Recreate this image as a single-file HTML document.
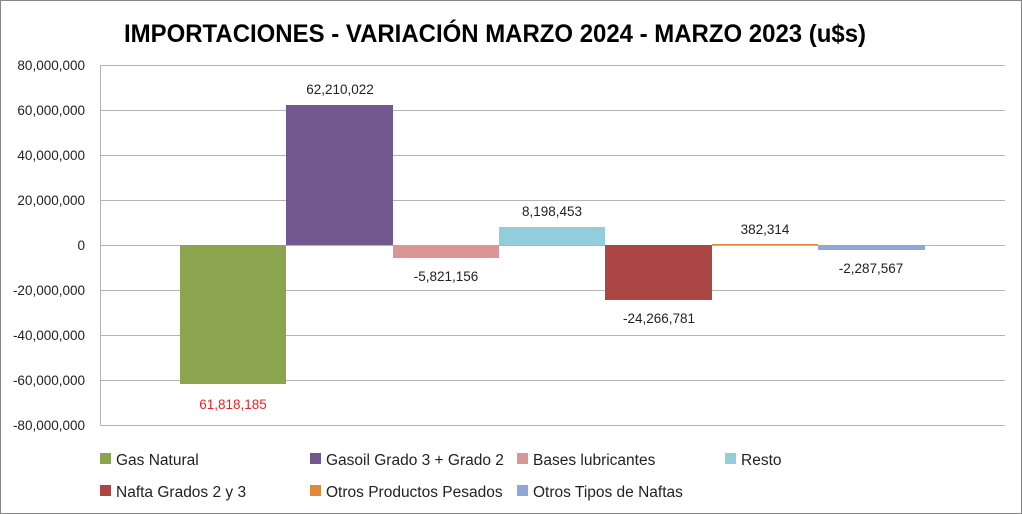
<!DOCTYPE html>
<html><head><meta charset="utf-8"><style>
html,body{margin:0;padding:0;background:#fff}
svg{display:block;font-family:"Liberation Sans",sans-serif}
</style></head><body>
<svg width="1022" height="514" viewBox="0 0 1022 514" xmlns="http://www.w3.org/2000/svg">
<rect x="0.5" y="0.5" width="1021" height="513" fill="#fff" stroke="#868686"/>
<text x="495" y="42" font-size="25" font-weight="bold" text-anchor="middle" textLength="742" lengthAdjust="spacingAndGlyphs" fill="#000">IMPORTACIONES - VARIACIÓN MARZO 2024 - MARZO 2023 (u$s)</text>
<g stroke="#b3b3b3" stroke-width="1">
<line x1="100" y1="65.5" x2="1005" y2="65.5"/>
<line x1="100" y1="110.5" x2="1005" y2="110.5"/>
<line x1="100" y1="155.5" x2="1005" y2="155.5"/>
<line x1="100" y1="200.5" x2="1005" y2="200.5"/>
<line x1="100" y1="245.5" x2="1005" y2="245.5"/>
<line x1="100" y1="290.5" x2="1005" y2="290.5"/>
<line x1="100" y1="335.5" x2="1005" y2="335.5"/>
<line x1="100" y1="380.5" x2="1005" y2="380.5"/>
<line x1="100" y1="425.5" x2="1005" y2="425.5"/>
<line x1="100.5" y1="65" x2="100.5" y2="425"/>
</g>
<g font-size="13.5" fill="#222" text-anchor="end">
<text x="85" y="70">80,000,000</text>
<text x="85" y="115">60,000,000</text>
<text x="85" y="160">40,000,000</text>
<text x="85" y="205">20,000,000</text>
<text x="85" y="250">0</text>
<text x="85" y="295">-20,000,000</text>
<text x="85" y="340">-40,000,000</text>
<text x="85" y="385">-60,000,000</text>
<text x="85" y="430">-80,000,000</text>
</g>
<rect x="180" y="245" width="106" height="139" fill="#8BA54E"/>
<rect x="286" y="105" width="107" height="140" fill="#71588F"/>
<rect x="393" y="245" width="106" height="13" fill="#D99694"/>
<rect x="499" y="227" width="106" height="18" fill="#93CDDD"/>
<rect x="605" y="245" width="107" height="55" fill="#AA4644"/>
<rect x="712" y="244" width="106" height="1" fill="#E0893B"/>
<rect x="818" y="245" width="107" height="5" fill="#8FA8D6"/>
<g font-size="13.5" fill="#222" text-anchor="middle">
<text x="233" y="409" fill="#e8252b">61,818,185</text>
<text x="340" y="94">62,210,022</text>
<text x="446" y="281">-5,821,156</text>
<text x="552" y="216">8,198,453</text>
<text x="659" y="323">-24,266,781</text>
<text x="765" y="234">382,314</text>
<text x="871" y="273">-2,287,567</text>
</g>
<g font-size="15.5" fill="#222">
<rect x="100" y="453" width="11" height="11" fill="#8BA54E"/><text x="116" y="465">Gas Natural</text>
<rect x="310" y="453" width="11" height="11" fill="#71588F"/><text x="326" y="465">Gasoil Grado 3 + Grado 2</text>
<rect x="517" y="453" width="11" height="11" fill="#D99694"/><text x="533" y="465">Bases lubricantes</text>
<rect x="725" y="453" width="11" height="11" fill="#93CDDD"/><text x="741" y="465">Resto</text>
<rect x="100" y="485" width="11" height="11" fill="#AA4644"/><text x="116" y="497">Nafta Grados 2 y 3</text>
<rect x="310" y="485" width="11" height="11" fill="#E0893B"/><text x="326" y="497">Otros Productos Pesados</text>
<rect x="517" y="485" width="11" height="11" fill="#8FA8D6"/><text x="533" y="497">Otros Tipos de Naftas</text>
</g>
</svg>
</body></html>
